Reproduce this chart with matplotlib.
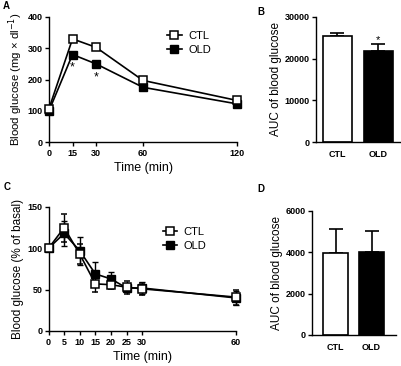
import numpy as np
import matplotlib
matplotlib.use('Agg')
import matplotlib.pyplot as plt
from matplotlib.lines import Line2D

plt.rcParams['font.family'] = ['Liberation Sans', 'DejaVu Sans']
plt.rcParams['axes.linewidth'] = 1.0
plt.rcParams['xtick.major.width'] = 1.0
plt.rcParams['ytick.major.width'] = 1.0
plt.rcParams['xtick.major.size'] = 3
plt.rcParams['ytick.major.size'] = 3
plt.rcParams['xtick.major.pad'] = 2
plt.rcParams['ytick.major.pad'] = 1.5

# panel A - glucose tolerance
time_a = [0, 15, 30, 60, 120]
ctl_a = [107, 330, 303, 197, 133]
old_a = [100, 280, 250, 175, 122]
star_a_x = [15, 30]
star_a_y = [238, 208]

# panel B - AUC of panel A
groups = ['CTL', 'OLD']
auc_b = [25450, 21950]
auc_b_err = [600, 1650]

# panel C - insulin tolerance (% of basal)
time_c = [0, 5, 10, 15, 20, 25, 30, 60]
ctl_c = [100, 125, 93, 57, 56, 53, 51, 41]
ctl_c_err = [0, 17, 12, 10, 5, 8, 7, 9]
old_c = [100, 118, 97, 69, 63, 52, 52, 40]
old_c_err = [0, 15, 17, 14, 8, 5, 7, 8]

# panel D - AUC of panel C
auc_d = [3980, 4010]
auc_d_err = [1140, 1000]

W, H = 401, 366
fig = plt.figure(figsize=(W / 100, H / 100), dpi=100)


def rect(l, t, r, b):
    return [l / W, 1 - b / H, (r - l) / W, (b - t) / H]


def style(ax):
    ax.spines['top'].set_visible(False)
    ax.spines['right'].set_visible(False)
    for lab in ax.get_xticklabels() + ax.get_yticklabels():
        lab.set_fontweight('bold')
        lab.set_fontsize(6.5)


def line_panel(ax, x, ctl, old, ctl_err=None, old_err=None):
    ax.errorbar(x, old, yerr=old_err, color='black', lw=1.2, marker='s',
                ms=5.5, mfc='black', mec='black', capsize=2.5, elinewidth=1,
                zorder=3, clip_on=False)
    ax.errorbar(x, ctl, yerr=ctl_err, color='black', lw=1.2, marker='s',
                ms=5.5, mfc='white', mec='black', mew=1.1, capsize=2.5,
                elinewidth=1, zorder=4, clip_on=False)
    handles = [Line2D([], [], color='black', lw=1.2, marker='s', ms=5.5,
                      mfc='white', mec='black', mew=1.1),
               Line2D([], [], color='black', lw=1.2, marker='s', ms=5.5,
                      mfc='black', mec='black')]
    return handles, groups


def bar_panel(ax, vals, errs):
    x = np.arange(len(vals))
    ax.bar(x, vals, width=0.7, color=['white', 'black'], edgecolor='black',
           linewidth=1.2, zorder=2)
    ax.errorbar(x, vals, yerr=[np.zeros(len(errs)), errs], fmt='none',
                ecolor='black', elinewidth=1.2, capsize=5, capthick=1.2,
                zorder=1)
    ax.set_xticks(x)
    ax.set_xticklabels(groups)
    ax.tick_params(axis='x', length=0, pad=6)
    ax.set_ylabel('AUC of blood glucose', fontsize=8.5, labelpad=2)


# A
axA = fig.add_axes(rect(49, 17, 237, 142))
h, l = line_panel(axA, time_a, ctl_a, old_a)
for sx, sy in zip(star_a_x, star_a_y):
    axA.text(sx, sy, '*', ha='center', va='center', fontsize=9)
axA.set_xlim(0, 120)
axA.set_ylim(0, 400)
axA.set_xticks(time_a)
axA.set_yticks([0, 100, 200, 300, 400])
axA.set_xlabel('Time (min)', fontsize=9, labelpad=3)
axA.set_ylabel('Blood glucose (mg × dl$^{-1}$)', fontsize=8.2, labelpad=2)
axA.legend(h, l, loc='upper left', bbox_to_anchor=(0.575, 0.97),
           frameon=False, fontsize=8, handlelength=1.3, handletextpad=0.6,
           labelspacing=0.35)
style(axA)

# B
axB = fig.add_axes(rect(316, 17, 401, 142))
bar_panel(axB, auc_b, auc_b_err)
axB.text(1, auc_b[1] + auc_b_err[1] + 900, '*', ha='center', va='center',
         fontsize=8)
axB.set_xlim(-0.52, 1.55)
axB.set_ylim(0, 30000)
axB.set_yticks([0, 10000, 20000, 30000])
style(axB)

# C
axC = fig.add_axes(rect(48.5, 207, 236, 331))
h, l = line_panel(axC, time_c, ctl_c, old_c, ctl_c_err, old_c_err)
axC.set_xlim(0, 60)
axC.set_ylim(0, 150)
axC.set_xticks(time_c)
axC.set_yticks([0, 50, 100, 150])
axC.set_xlabel('Time (min)', fontsize=9, labelpad=3)
axC.set_ylabel('Blood glucose (% of basal)', fontsize=8.5, labelpad=2)
axC.legend(h, l, loc='upper left', bbox_to_anchor=(0.555, 0.92),
           frameon=False, fontsize=8, handlelength=1.3, handletextpad=0.6,
           labelspacing=0.35)
style(axC)

# D
axD = fig.add_axes(rect(312, 211, 396, 335))
bar_panel(axD, auc_d, auc_d_err)
axD.set_xlim(-0.66, 1.68)
axD.set_ylim(0, 6000)
axD.set_yticks([0, 2000, 4000, 6000])
style(axD)

for lab, x, y in [('A', 3, 6), ('B', 257, 12), ('C', 4, 187), ('D', 257, 189)]:
    fig.text(x / W, 1 - y / H, lab, fontsize=7, fontweight='bold',
             va='center', ha='left')

fig.savefig('out.png', dpi=100)
